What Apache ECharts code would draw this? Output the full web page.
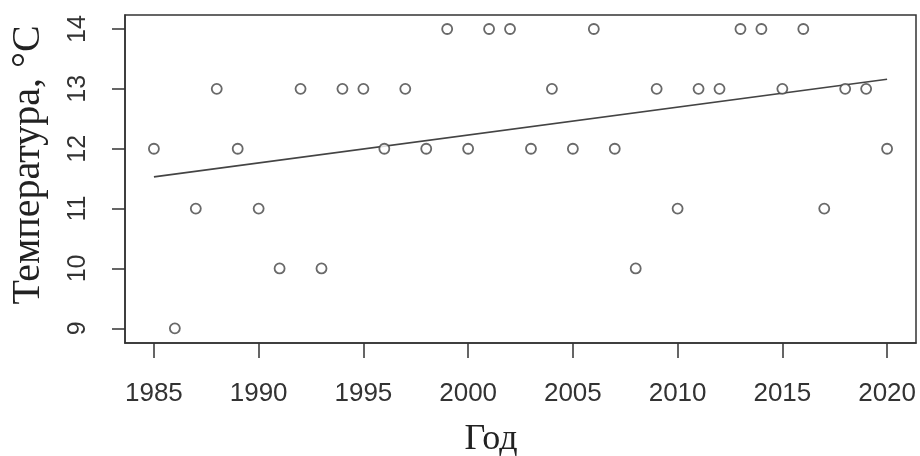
<!DOCTYPE html>
<html><head><meta charset="utf-8">
<script src="https://cdn.jsdelivr.net/npm/echarts@6/dist/echarts.min.js"></script>
<style>html,body{margin:0;padding:0;background:#fff}#c{width:920px;height:456px}</style>
</head><body><div id="c"></div>
<script>
var years = [1985,1986,1987,1988,1989,1990,1991,1992,1993,1994,1995,1996,1997,1998,1999,2000,2001,2002,2003,2004,2005,2006,2007,2008,2009,2010,2011,2012,2013,2014,2015,2016,2017,2018,2019,2020];
var temps = [12,9,11,13,12,11,10,13,10,13,13,12,13,12,14,12,14,14,12,13,12,14,12,10,13,11,13,13,14,14,13,14,11,13,13,12];
var trendYears = [1985, 2020];
var trendValues = [11.53, 13.16];
var xTicks = [1985,1990,1995,2000,2005,2010,2015,2020];
var yTicks = [9,10,11,12,13,14];
var xTitle = 'Год';
var yTitle = 'Температура, °C';

var chart = echarts.init(document.getElementById('c'), null, {renderer:'canvas'});
var axisColor = '#333';
chart.setOption({
  animation:false,
  backgroundColor:'#fff',
  grid:{left:125, top:15, width:791, height:328, show:true, borderColor:axisColor, borderWidth:1.5, backgroundColor:'transparent'},
  xAxis:{type:'value', min:1983.62, max:2021.38,
    axisLine:{show:true, onZero:false, lineStyle:{color:axisColor, width:1.5}},
    axisTick:{show:true, inside:false, length:15, customValues:xTicks, lineStyle:{color:axisColor, width:1.5}},
    axisLabel:{customValues:xTicks, margin:38, color:'#333', fontFamily:'Liberation Sans', fontSize:26,
      formatter:function(v){return String(v);}},
    splitLine:{show:false}},
  yAxis:{type:'value', min:8.755, max:14.234,
    axisLine:{show:true, onZero:false, lineStyle:{color:axisColor, width:1.5}},
    axisTick:{show:true, inside:false, length:13, customValues:yTicks, lineStyle:{color:axisColor, width:1.5}},
    axisLabel:{customValues:yTicks, rotate:90, margin:34, color:'#333', fontFamily:'Liberation Sans', fontSize:25,
      formatter:function(v){return String(v);}},
    splitLine:{show:false}},
  graphic:[
    {type:'text', x:491, y:440, style:{text:xTitle, fill:'#222', font:'36px "Liberation Serif"', align:'center', verticalAlign:'middle'}},
    {type:'text', x:28, y:165, rotation:Math.PI/2, style:{text:yTitle, fill:'#222', font:'40px "Liberation Serif"', align:'center', verticalAlign:'middle'}}
  ],
  series:[
    {type:'scatter', data:years.map(function(y,i){return [y,temps[i]];}), symbol:'circle', symbolSize:10,
      itemStyle:{color:'#fff', borderColor:'#444', borderWidth:1.8}},
    {type:'line', data:trendYears.map(function(y,i){return [y,trendValues[i]];}), symbol:'none',
      lineStyle:{color:'#444', width:1.6}, z:1}
  ]
});
</script></body></html>
